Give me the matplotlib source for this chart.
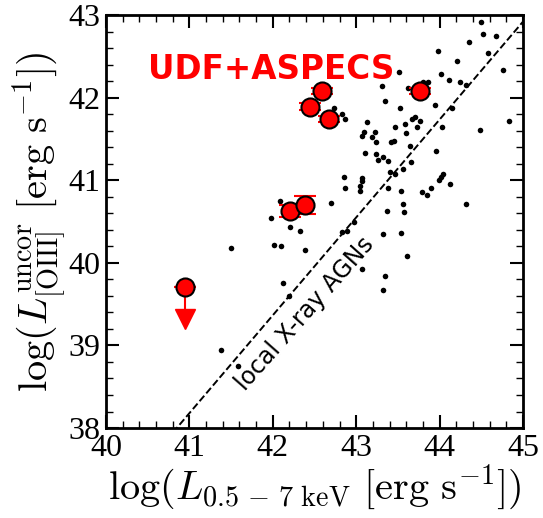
import numpy as np
import matplotlib
matplotlib.use('Agg')
import matplotlib.pyplot as plt
from matplotlib.ticker import MultipleLocator

plt.rcParams['font.family'] = 'serif'
plt.rcParams['font.serif'] = ['Liberation Serif', 'DejaVu Serif']
plt.rcParams['mathtext.fontset'] = 'cm'

# local X-ray AGN comparison sample: log L_X (0.5-7 keV), log L_[OIII] (uncorrected)
local_lx = [44.50, 44.52, 44.68, 44.35, 43.98, 44.58, 44.21, 44.76, 43.51, 44.02,
            44.11, 44.24, 44.32, 43.80, 43.86, 43.31, 43.62, 43.35, 43.94, 43.52,
            44.15, 42.73, 42.83, 42.87, 43.67, 43.70, 43.77, 44.83, 43.13, 43.47,
            43.58, 43.73, 44.03, 44.48, 43.09, 43.07, 43.23, 43.19, 43.24, 43.60,
            43.42, 43.45, 43.65, 43.96, 43.11, 43.24, 43.32, 43.26, 43.38, 43.66,
            43.56, 43.41, 43.47, 44.04, 44.02, 43.99, 42.85, 43.07, 43.07, 43.05,
            43.04, 44.12, 42.87, 43.38, 43.54, 43.90, 43.79, 43.85, 42.70, 43.56,
            44.32, 43.37, 43.57, 42.97, 42.83, 42.89, 43.32, 43.54, 43.61, 43.07,
            43.34, 43.32, 42.09, 41.98, 42.21, 42.33, 41.50, 42.01, 42.10, 42.39,
            42.12, 42.20, 41.38, 41.58]
local_loiii = [42.91, 42.77, 42.75, 42.67, 42.56, 42.54, 42.44, 42.34, 42.31, 42.29,
               42.21, 42.19, 42.15, 42.19, 42.19, 42.14, 42.12, 41.96, 41.91, 41.87,
               41.87, 41.88, 41.80, 41.74, 41.74, 41.76, 41.72, 41.72, 41.70, 41.64,
               41.68, 41.64, 41.64, 41.61, 41.58, 41.54, 41.58, 41.52, 41.46, 41.57,
               41.46, 41.47, 41.42, 41.35, 41.33, 41.32, 41.28, 41.25, 41.23, 41.22,
               41.13, 41.10, 41.07, 41.08, 41.04, 41.00, 41.04, 41.03, 40.99, 40.93,
               40.87, 40.95, 40.91, 40.90, 40.87, 40.91, 40.86, 40.82, 40.73, 40.71,
               40.71, 40.63, 40.62, 40.49, 40.37, 40.38, 40.35, 40.36, 40.08, 39.93,
               39.84, 39.67, 40.75, 40.54, 40.43, 40.39, 40.18, 40.22, 40.20, 40.15,
               39.76, 39.60, 38.94, 38.75]

# UDF+ASPECS detections
udf_lx = [42.21, 42.39, 42.59, 42.45, 42.67, 43.76]
udf_loiii = [40.63, 40.70, 42.08, 41.89, 41.74, 42.08]
udf_err = [0.07, 0.11, 0.04, 0.04, 0.04, 0.04]

# UDF+ASPECS upper limit
lim_lx = [40.95]
lim_loiii = [39.71]
lim_arrow = 0.39

# local X-ray AGN relation
rel_slope = 1.185
rel_icpt = -10.405

fig = plt.figure(figsize=(5.43, 5.18), dpi=100)
ax = fig.add_axes([0.1952, 0.1737, 0.768, 0.7973])

xx = np.linspace(40, 45, 50)
ax.plot(xx, rel_slope * xx + rel_icpt, 'k--', lw=1.4)
ax.text(42.39, 39.39, 'local X-ray AGNs', rotation=48.5, rotation_mode='anchor',
        ha='center', va='center', family='DejaVu Sans', fontsize=17)

ax.plot(local_lx, local_loiii, 'o', color='k', ms=4, mec='none')

ax.errorbar(udf_lx, udf_loiii, yerr=udf_err, fmt='o', ms=13, mfc='red', mec='k',
            mew=1.5, ecolor='red', elinewidth=1.5, capsize=8, capthick=1.5, zorder=5)

# upper limit with arrow
lim_lx = np.array(lim_lx)
lim_loiii = np.array(lim_loiii)
ax.plot([lim_lx, lim_lx], [lim_loiii, lim_loiii - lim_arrow], color='red', lw=1.5, zorder=4)
ax.plot(lim_lx, lim_loiii - lim_arrow, 'v', color='red', ms=15, zorder=4)
ax.errorbar(lim_lx, lim_loiii, yerr=[[0], [0]], fmt='o', ms=13, mfc='red', mec='k',
            mew=1.5, ecolor='red', elinewidth=1.5, capsize=8, capthick=1.5, zorder=5)

ax.text(41.98, 42.34, 'UDF+ASPECS', color='red', fontsize=23.5, fontweight='bold',
        family='DejaVu Sans', ha='center', va='center')

ax.set_xlim(40, 45)
ax.set_ylim(38, 43)
ax.xaxis.set_major_locator(MultipleLocator(1))
ax.xaxis.set_minor_locator(MultipleLocator(0.2))
ax.yaxis.set_major_locator(MultipleLocator(1))
ax.yaxis.set_minor_locator(MultipleLocator(0.2))
ax.tick_params(which='both', direction='in', top=True, right=True, labelsize=23)
ax.tick_params(which='major', length=9.5, width=1.5, pad=4)
ax.tick_params(which='minor', length=5, width=1)
for sp in ax.spines.values():
    sp.set_linewidth(2)

ax.set_xlabel(r'$\log(L_{0.5\,-\,7\ \mathrm{keV}}\ [\mathrm{erg\ s^{-1}}])$', fontsize=29, labelpad=0)
ax.set_ylabel(r'$\log(L^{\mathrm{uncor}}_{\mathrm{[OIII]}}\ [\mathrm{erg\ s^{-1}}])$', fontsize=29, labelpad=0)

fig.savefig('out.png', dpi=100)
